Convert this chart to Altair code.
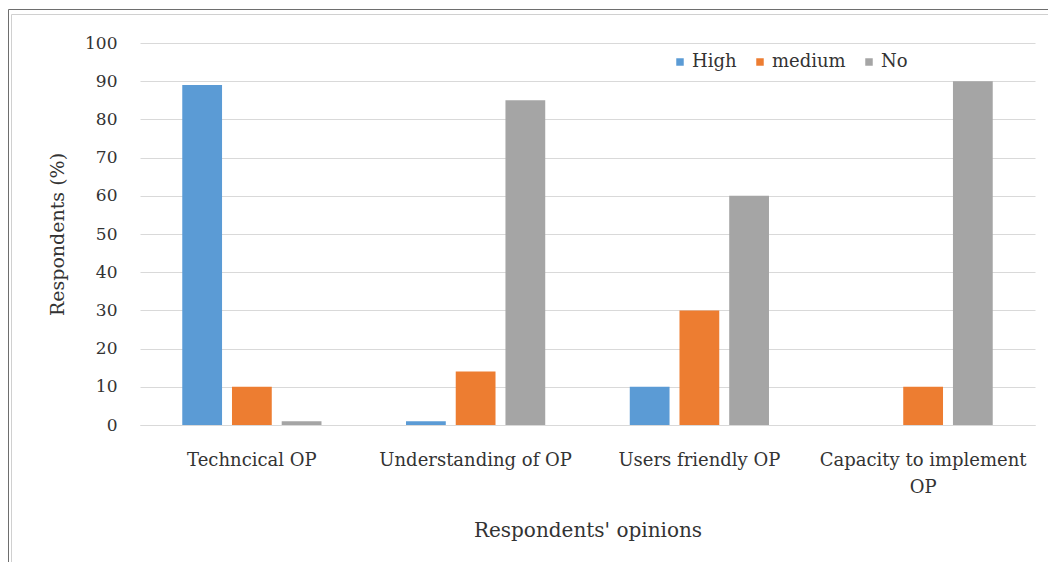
import altair as alt
import pandas as pd

categories = ["Techncical OP", "Understanding of OP", "Users friendly OP", "Capacity to implement OP"]
series = ["High", "medium", "No"]
high = [89, 1, 10, 0]
medium = [10, 14, 30, 10]
no = [1, 85, 60, 90]
colors = ["#5B9BD5", "#ED7D31", "#A5A5A5"]

rows = []
for name, vals in zip(series, [high, medium, no]):
    for c, v in zip(categories, vals):
        rows.append({"category": c, "series": name, "value": v})
df = pd.DataFrame(rows)

FONT = "DejaVu Serif"

bars = alt.Chart(df).mark_bar().encode(
    x=alt.X("category:N", sort=categories,
            scale=alt.Scale(paddingInner=0, paddingOuter=0),
            axis=alt.Axis(title="Respondents' opinions", labelAngle=0, labelLimit=400,
                          labelFontSize=18, labelPadding=26, labelLineHeight=27,
                          labelExpr="datum.label == 'Capacity to implement OP' ? ['Capacity to implement', 'OP'] : datum.label",
                          ticks=False, domain=True, domainColor="#d9d9d9", grid=False,
                          titleFontSize=20, titlePadding=24, titleFontWeight="normal",
                          labelFont=FONT, titleFont=FONT)),
    xOffset=alt.XOffset("series:N", sort=series,
                        scale=alt.Scale(paddingInner=0.2, paddingOuter=0.85)),
    y=alt.Y("value:Q", scale=alt.Scale(domain=[0, 100]),
            axis=alt.Axis(title="Respondents (%)", values=list(range(0, 101, 10)),
                          labelFontSize=17, labelPadding=23, ticks=False, domain=False,
                          gridColor="#d9d9d9", titleFontSize=19, titlePadding=17,
                          titleFontWeight="normal", labelFont=FONT, titleFont=FONT)),
    color=alt.Color("series:N", sort=series,
                    scale=alt.Scale(domain=series, range=colors),
                    legend=alt.Legend(title=None, orient="none", legendX=531, legendY=10,
                                      direction="horizontal", symbolType="square",
                                      symbolSize=56, labelFontSize=18, labelOffset=3,
                                      columnPadding=14, symbolStrokeWidth=0,
                                      labelFont=FONT)),
)

frame_outer = alt.Chart(alt.Data(values=[{}])).mark_rect(filled=False, stroke="#6e6e6e", strokeWidth=1).encode(
    x=alt.value(-131.5), x2=alt.value(1200), y=alt.value(-33.5), y2=alt.value(1200))
frame_inner = alt.Chart(alt.Data(values=[{}])).mark_rect(filled=False, stroke="#d0d0d0", strokeWidth=1).encode(
    x=alt.value(-128.5), x2=alt.value(1200), y=alt.value(-28.5), y2=alt.value(1200))

chart = alt.layer(frame_outer, frame_inner, bars).properties(
    width=895, height=382,
    autosize=alt.AutoSizeParams(type="none"),
    padding={"left": 132, "top": 35, "right": 13, "bottom": 137},
).configure(font=FONT).configure_view(stroke=None).configure_axis(
    labelColor="#333333", titleColor="#333333"
).configure_legend(labelColor="#333333")

chart.save("out.html", embed_options={"renderer": "svg", "actions": False})
